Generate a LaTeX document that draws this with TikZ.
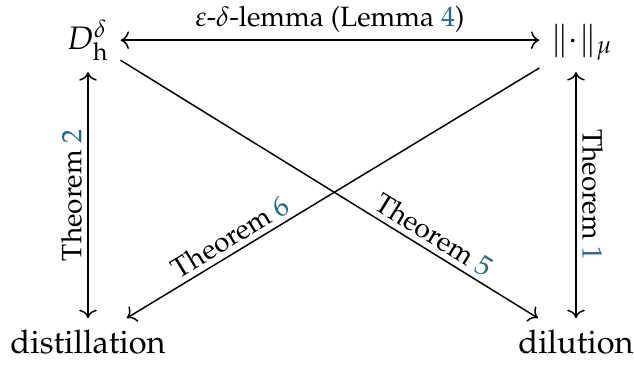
\documentclass[tikz,border=0pt]{standalone}
\usepackage[T1]{fontenc}
\usepackage{mathpazo}
\usepackage{tikz}
\usetikzlibrary{arrows.meta,positioning}
\definecolor{RefTeal}{HTML}{24697D}
\newcommand{\refnum}[1]{\textcolor{RefTeal}{#1}}
\tikzset{
  obj/.style={anchor=base,font=\normalsize,inner sep=3.3pt},
  lbl/.style={font=\fontsize{8.6}{10}\selectfont,inner sep=1.6pt},
  imp/.style={->,line width=0.45pt},
  equiv/.style={<->,line width=0.45pt}
}
\begin{document}
\begin{tikzpicture}[x=0.0108cm,y=-0.0108cm]
  \useasboundingbox (0,0) rectangle (634,364);

  % the four objects
  \node[obj] (Dh) at (88,49) {$D^{\delta}_{\mathrm{h}}$};
  \node[obj] (norm) at (582,49) {$\|{\cdot}\|_{\mu}$};
  \node[obj] (distill) at (88,353) {distillation};
  \node[obj] (dilut) at (576,353) {dilution};

  % implications
  \draw[equiv] (Dh.east) -- (Dh.east -| norm.west)
    node[lbl,midway,above=0.5pt] {$\varepsilon$-$\delta$-lemma (Lemma~\refnum{4})};
  \draw[equiv] (distill.north -| Dh.south) -- (Dh.south)
    node[lbl,midway,sloped,above] {Theorem~\refnum{2}};
  \draw[equiv] (norm.south -| dilut.north) -- (dilut.north)
    node[lbl,midway,sloped,above] {Theorem~\refnum{1}};
  \draw[imp] (Dh) -- (dilut)
    node[lbl,pos=0.73,sloped,above] {Theorem~\refnum{5}};
  \draw[imp] (norm) -- (distill)
    node[lbl,pos=0.73,sloped,above] {Theorem~\refnum{6}};
\end{tikzpicture}
\end{document}
